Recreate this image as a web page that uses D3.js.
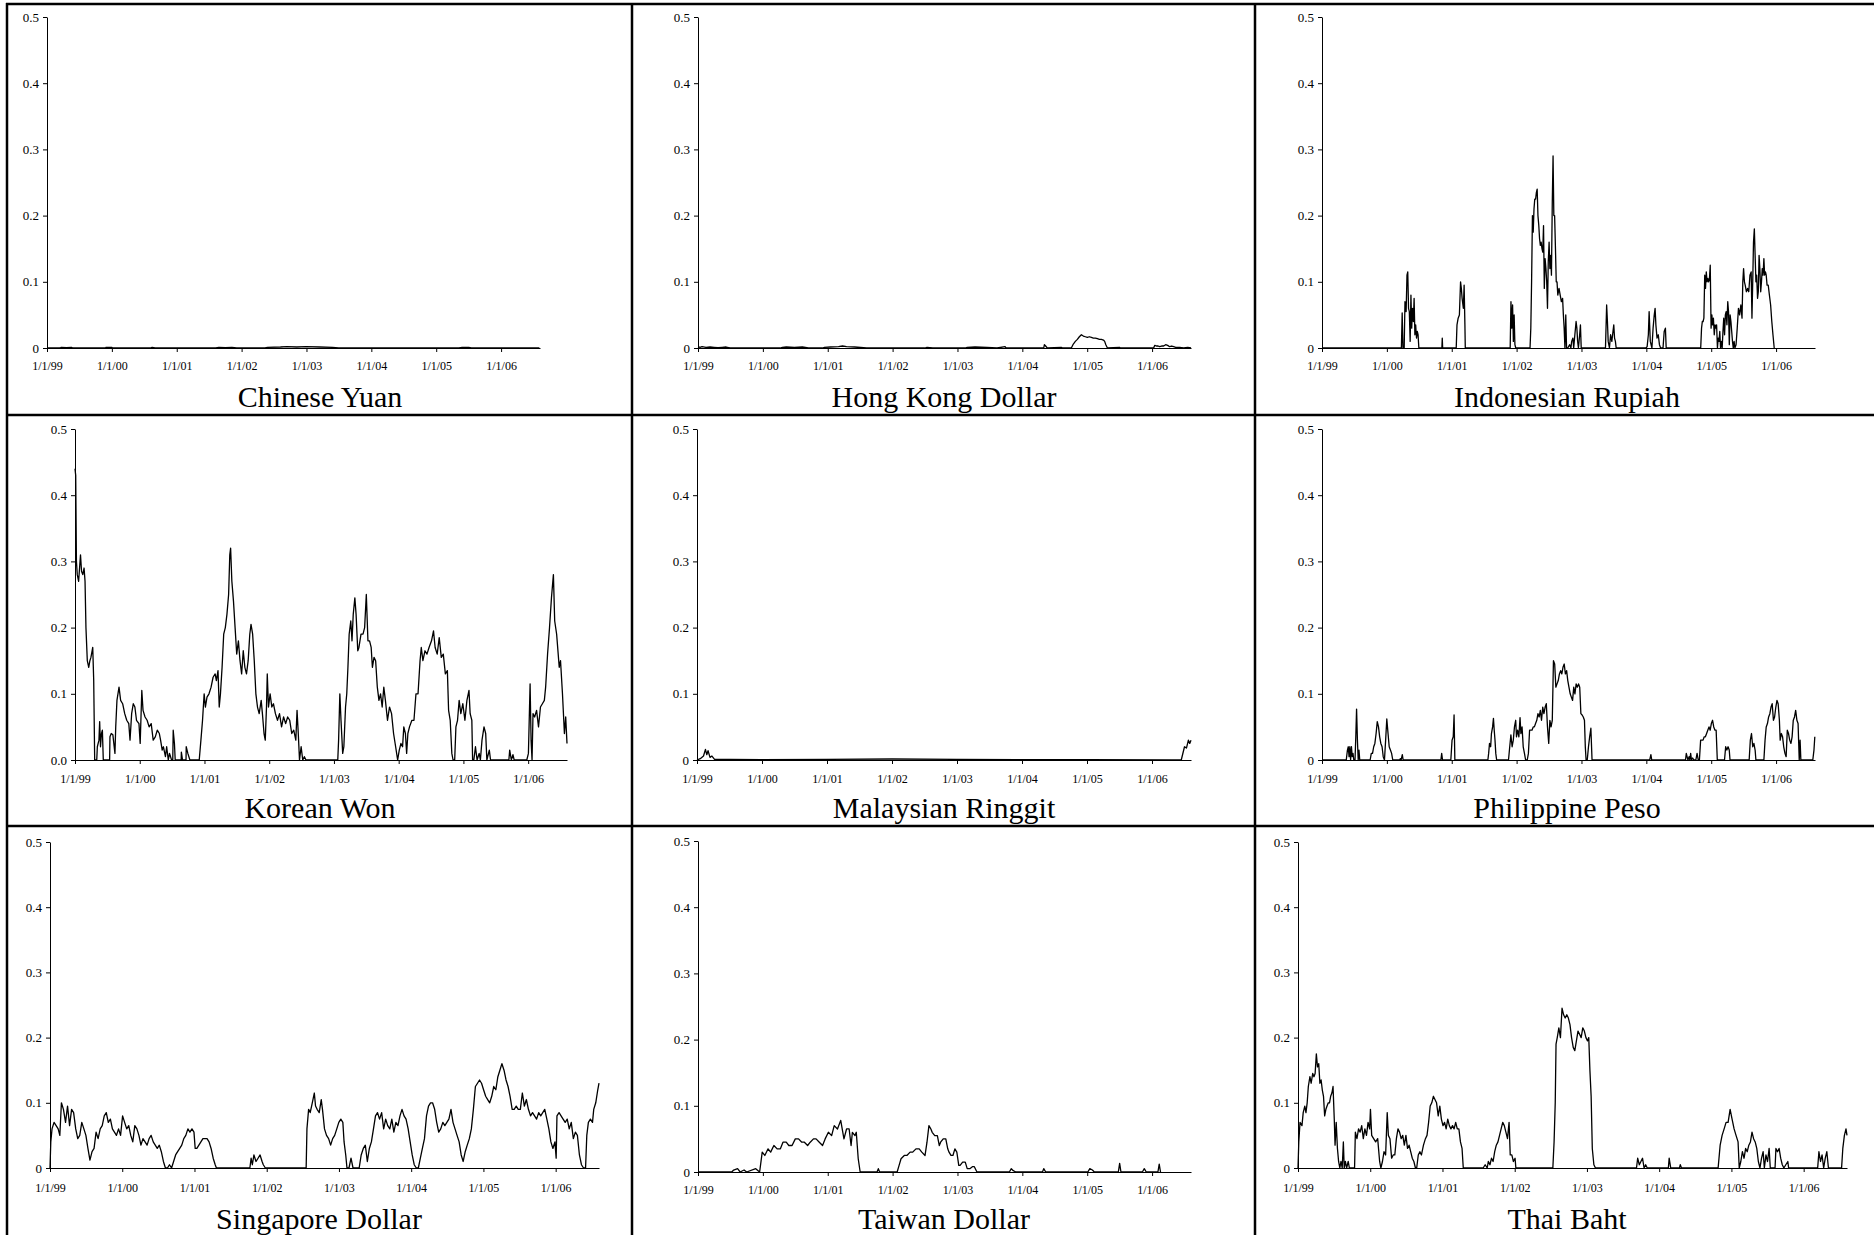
<!DOCTYPE html>
<html>
<head>
<meta charset="utf-8">
<script src="https://cdn.jsdelivr.net/npm/d3@7"></script>
<style>
  html, body { margin: 0; padding: 0; background: #fff; }
  svg { display: block; }
  .tick text { font-family: "Liberation Serif", "Times New Roman", serif; fill: #000; }
  .title { font-family: "Liberation Serif", "Times New Roman", serif; fill: #000; }
</style>
</head>
<body>
<svg id="chart" width="1874" height="1235"></svg>
<script>
// ---------------- DATA (x = years since 1/1/99, y = weight) ----------------
const tickLabels = ["1/1/99", "1/1/00", "1/1/01", "1/1/02", "1/1/03", "1/1/04", "1/1/05", "1/1/06"];
const tickYears = [0, 1, 2, 3, 4, 5, 6, 7];
const yTicks = [0, 0.1, 0.2, 0.3, 0.4, 0.5];
const currencies = ["Chinese Yuan", "Hong Kong Dollar", "Indonesian Rupiah",
                    "Korean Won", "Malaysian Ringgit", "Philippine Peso",
                    "Singapore Dollar", "Taiwan Dollar", "Thai Baht"];

const cny = [[0,0],[0.2,0],[0.22,0.001],[0.3,0.0005],[0.377,0.001],[0.4,0],[0.9,0],[0.912,0.001],[1.0,0.0008],[1.006,0],[1.6,0],[1.62,0.001],[1.667,0],[2.6,0],[2.65,0.001],[2.75,0.0005],[2.85,0.001],[2.925,0],[3.36,0],[3.4,0.001],[3.6,0.0015],[3.7,0.002],[3.85,0.0015],[3.994,0.002],[4.2,0.0015],[4.4,0.001],[4.497,0],[6.35,0],[6.4,0.001],[6.5,0.001],[6.541,0],[7.59,0]];

const hkd = [[0,0.002],[0.031,0.001],[0.062,0.002],[0.124,0.001],[0.186,0.0015],[0.248,0.001],[0.309,0.0005],[0.371,0.001],[0.433,0.0015],[0.495,0],[1.269,0],[1.3,0.001],[1.361,0.0015],[1.485,0.001],[1.609,0.0015],[1.702,0],[1.918,0],[1.95,0.001],[2.042,0.0015],[2.166,0.002],[2.228,0.003],[2.29,0.002],[2.413,0.0015],[2.599,0],[3.496,0],[3.53,0.001],[3.62,0],[4.115,0],[4.15,0.001],[4.27,0.0015],[4.455,0.001],[4.61,0],[4.734,0.002],[4.75,0],[5.33,0],[5.34,0.005],[5.359,0.003],[5.384,0],[5.6,0.001],[5.62,0],[5.755,0],[5.786,0.006],[5.817,0.01],[5.848,0.013],[5.879,0.017],[5.91,0.02],[5.94,0.018],[5.971,0.017],[6.002,0.016],[6.033,0.017],[6.064,0.016],[6.095,0.015],[6.126,0.015],[6.157,0.014],[6.188,0.013],[6.219,0.013],[6.25,0.012],[6.269,0.01],[6.287,0.005],[6.312,0],[6.497,0.001],[6.51,0],[7.023,0],[7.042,0.004],[7.067,0.003],[7.092,0.003],[7.116,0.002],[7.147,0.003],[7.178,0.003],[7.209,0.005],[7.24,0.004],[7.271,0.002],[7.302,0.003],[7.333,0.002],[7.364,0.001],[7.426,0.001],[7.488,0],[7.55,0.001],[7.6,0]];

const idr = [[0,0],[1.224,0],[1.236,0.053],[1.248,0],[1.267,0],[1.279,0.07],[1.297,0.055],[1.31,0.11],[1.322,0.115],[1.334,0.06],[1.346,0.055],[1.359,0.01],[1.371,0.08],[1.383,0.03],[1.395,0.06],[1.408,0.04],[1.42,0.075],[1.432,0.02],[1.444,0.035],[1.457,0.015],[1.469,0.025],[1.481,0.02],[1.493,0],[1.848,0],[1.854,0.015],[1.86,0],[2.069,0],[2.081,0.035],[2.099,0.045],[2.118,0.05],[2.136,0.1],[2.148,0.09],[2.16,0.075],[2.179,0.06],[2.191,0.095],[2.203,0.035],[2.209,0],[2.901,0],[2.913,0.07],[2.925,0.03],[2.938,0.065],[2.95,0.01],[2.962,0.05],[2.974,0.005],[2.987,0],[3.207,0],[3.219,0.03],[3.231,0.1],[3.244,0.2],[3.256,0.175],[3.268,0.21],[3.28,0.225],[3.293,0.225],[3.305,0.235],[3.317,0.24],[3.329,0.2],[3.342,0.185],[3.354,0.165],[3.366,0.155],[3.378,0.16],[3.391,0.15],[3.403,0.145],[3.415,0.185],[3.427,0.09],[3.439,0.135],[3.452,0.12],[3.464,0.1],[3.476,0.06],[3.488,0.13],[3.501,0.16],[3.513,0.12],[3.525,0.14],[3.537,0.11],[3.55,0.22],[3.562,0.29],[3.574,0.2],[3.586,0.2],[3.599,0.15],[3.611,0.1],[3.623,0.1],[3.635,0.08],[3.654,0.09],[3.672,0.08],[3.69,0.07],[3.709,0.075],[3.721,0.05],[3.733,0.03],[3.745,0],[3.758,0.05],[3.77,0],[3.788,0],[3.819,0.005],[3.837,0],[3.849,0.01],[3.868,0.015],[3.88,0],[3.898,0.02],[3.917,0.04],[3.929,0.03],[3.941,0.01],[3.953,0],[3.972,0.02],[3.984,0.035],[3.996,0],[4.37,0],[4.388,0.065],[4.4,0.04],[4.412,0.01],[4.431,0],[4.449,0.02],[4.468,0.01],[4.486,0.025],[4.498,0.035],[4.51,0.015],[4.523,0.01],[4.535,0],[4.994,0],[5.012,0.002],[5.031,0.02],[5.043,0.055],[5.061,0.01],[5.086,0],[5.104,0.03],[5.122,0.05],[5.135,0.06],[5.147,0.035],[5.165,0.015],[5.184,0.02],[5.202,0.005],[5.22,0],[5.257,0],[5.275,0.025],[5.294,0.03],[5.306,0],[5.838,0],[5.851,0.03],[5.863,0.04],[5.875,0.04],[5.887,0.045],[5.9,0.11],[5.912,0.09],[5.924,0.115],[5.936,0.1],[5.949,0.105],[5.961,0.1],[5.973,0.105],[5.985,0.125],[5.998,0.03],[6.01,0.05],[6.022,0.035],[6.034,0.045],[6.047,0.02],[6.059,0.035],[6.071,0.03],[6.083,0.035],[6.096,0],[6.108,0.015],[6.12,0.01],[6.132,0.025],[6.144,0],[6.157,0.01],[6.169,0],[6.181,0.025],[6.193,0.045],[6.206,0.02],[6.218,0.05],[6.23,0.055],[6.242,0.035],[6.255,0.07],[6.267,0.055],[6.279,0.005],[6.291,0.05],[6.304,0.04],[6.316,0.025],[6.328,0.01],[6.34,0],[6.353,0.01],[6.365,0],[6.383,0.005],[6.401,0.03],[6.42,0.06],[6.438,0.05],[6.457,0.065],[6.475,0.045],[6.487,0.1],[6.499,0.12],[6.512,0.1],[6.524,0.095],[6.542,0.085],[6.561,0.09],[6.579,0.085],[6.597,0.11],[6.616,0.115],[6.628,0.045],[6.64,0.1],[6.652,0.16],[6.665,0.18],[6.677,0.14],[6.689,0.1],[6.701,0.11],[6.714,0.075],[6.726,0.085],[6.738,0.14],[6.75,0.12],[6.763,0.085],[6.775,0.1],[6.787,0.12],[6.799,0.11],[6.812,0.135],[6.824,0.11],[6.836,0.115],[6.848,0.11],[6.861,0.095],[6.879,0.095],[6.897,0.08],[6.916,0.065],[6.934,0.04],[6.952,0.02],[6.971,0]];

const krw = [[0,0.44],[0.011,0.43],[0.022,0.3],[0.035,0.28],[0.056,0.27],[0.085,0.31],[0.101,0.285],[0.12,0.28],[0.14,0.29],[0.155,0.27],[0.169,0.2],[0.19,0.15],[0.212,0.14],[0.23,0.15],[0.246,0.155],[0.274,0.17],[0.289,0.12],[0.304,0],[0.336,0],[0.345,0.02],[0.37,0.03],[0.381,0.058],[0.394,0.02],[0.409,0.04],[0.423,0.045],[0.437,0],[0.535,0],[0.54,0.035],[0.56,0.04],[0.585,0.038],[0.617,0.01],[0.629,0.05],[0.648,0.09],[0.68,0.11],[0.705,0.09],[0.736,0.085],[0.768,0.07],[0.799,0.06],[0.831,0.055],[0.85,0.03],[0.875,0.07],[0.9,0.085],[0.925,0.08],[0.95,0.06],[0.988,0.055],[1.007,0.025],[1.032,0.105],[1.051,0.075],[1.082,0.065],[1.114,0.06],[1.145,0.05],[1.177,0.055],[1.208,0.03],[1.24,0.035],[1.271,0.045],[1.303,0.04],[1.322,0.03],[1.347,0.015],[1.366,0.02],[1.397,0.005],[1.416,0.02],[1.441,0],[1.46,0.01],[1.492,0],[1.51,0],[1.517,0.045],[1.536,0.025],[1.548,0],[1.64,0],[1.643,0.012],[1.661,0],[1.715,0],[1.718,0.02],[1.743,0.01],[1.775,0],[1.919,0],[1.945,0.03],[1.97,0.06],[1.995,0.1],[2.014,0.08],[2.039,0.095],[2.07,0.1],[2.102,0.11],[2.133,0.125],[2.165,0.13],[2.184,0.12],[2.209,0.135],[2.228,0.08],[2.247,0.1],[2.272,0.14],[2.297,0.19],[2.322,0.2],[2.347,0.22],[2.373,0.25],[2.391,0.31],[2.404,0.32],[2.423,0.27],[2.448,0.24],[2.473,0.2],[2.498,0.16],[2.524,0.18],[2.549,0.15],[2.574,0.13],[2.599,0.165],[2.624,0.14],[2.649,0.13],[2.675,0.15],[2.7,0.19],[2.719,0.205],[2.744,0.19],[2.769,0.15],[2.794,0.1],[2.819,0.08],[2.845,0.07],[2.876,0.09],[2.895,0.07],[2.92,0.04],[2.939,0.03],[2.958,0.08],[2.97,0.13],[2.989,0.08],[3.014,0.1],[3.04,0.08],[3.065,0.085],[3.096,0.07],[3.128,0.06],[3.159,0.07],[3.191,0.05],[3.222,0.065],[3.254,0.055],[3.285,0.065],[3.317,0.06],[3.348,0.04],[3.379,0.045],[3.411,0.03],[3.43,0.075],[3.449,0.04],[3.468,0],[3.493,0.02],[3.518,0],[3.543,0.005],[3.568,0],[4.059,0],[4.072,0.03],[4.091,0.1],[4.109,0.06],[4.135,0.01],[4.153,0.02],[4.179,0.08],[4.198,0.1],[4.216,0.14],[4.235,0.19],[4.26,0.21],[4.279,0.18],[4.298,0.22],[4.323,0.245],[4.342,0.22],[4.368,0.165],[4.386,0.17],[4.418,0.19],[4.449,0.19],[4.474,0.2],[4.5,0.25],[4.525,0.18],[4.55,0.18],[4.575,0.17],[4.594,0.14],[4.619,0.155],[4.644,0.15],[4.67,0.11],[4.695,0.09],[4.72,0.1],[4.745,0.08],[4.77,0.11],[4.795,0.09],[4.827,0.06],[4.858,0.08],[4.89,0.07],[4.921,0.04],[4.953,0.02],[4.984,0],[5.009,0.015],[5.035,0.025],[5.06,0.02],[5.079,0.05],[5.104,0.04],[5.123,0.01],[5.142,0.04],[5.167,0.05],[5.204,0.06],[5.236,0.06],[5.267,0.1],[5.299,0.1],[5.33,0.15],[5.349,0.17],[5.374,0.15],[5.406,0.165],[5.437,0.16],[5.469,0.17],[5.507,0.18],[5.538,0.195],[5.563,0.17],[5.595,0.16],[5.626,0.185],[5.658,0.155],[5.689,0.16],[5.721,0.13],[5.752,0.135],[5.771,0.075],[5.796,0.06],[5.821,0.01],[5.84,0],[5.865,0],[5.884,0.05],[5.909,0.06],[5.934,0.09],[5.96,0.07],[5.991,0.085],[6.023,0.06],[6.054,0.09],[6.086,0.105],[6.104,0.07],[6.13,0.06],[6.142,0],[6.161,0],[6.186,0.02],[6.211,0],[6.243,0.01],[6.262,0],[6.287,0.03],[6.318,0.05],[6.344,0.04],[6.362,0],[6.4,0.015],[6.419,0],[6.702,0],[6.715,0.015],[6.74,0],[6.765,0.008],[6.784,0],[6.979,0],[7.004,0.01],[7.03,0.115],[7.045,0.03],[7.06,0],[7.075,0.07],[7.1,0.065],[7.13,0.075],[7.16,0.05],[7.19,0.08],[7.22,0.085],[7.25,0.09],[7.27,0.11],[7.3,0.16],[7.33,0.2],[7.36,0.245],[7.39,0.28],[7.41,0.21],[7.44,0.19],[7.48,0.14],[7.5,0.15],[7.53,0.1],[7.56,0.04],[7.58,0.065],[7.6,0.025]];

const myr = [[0,0],[0.05,0.002],[0.1,0.006],[0.13,0.016],[0.15,0.008],[0.17,0.014],[0.2,0.004],[0.23,0.006],[0.27,0.001],[0.5,0.001],[1,0.0005],[2,0.001],[3,0.0015],[4,0.001],[5,0.0005],[6,0.0005],[7.3,0],[7.45,0],[7.5,0.02],[7.53,0.018],[7.56,0.03],[7.58,0.025],[7.6,0.03]];

const php = [[0,0],[0.374,0],[0.392,0.015],[0.405,0.02],[0.417,0.005],[0.429,0.02],[0.441,0],[0.454,0.02],[0.466,0.005],[0.478,0.01],[0.49,0],[0.509,0],[0.521,0.035],[0.533,0.077],[0.546,0.03],[0.558,0],[0.57,0.015],[0.582,0],[0.742,0],[0.76,0.01],[0.779,0.01],[0.797,0.02],[0.815,0.025],[0.834,0.04],[0.852,0.058],[0.871,0.05],[0.889,0.035],[0.907,0.025],[0.926,0.02],[0.944,0.005],[0.963,0],[0.981,0.03],[0.999,0.062],[1.018,0.04],[1.036,0.02],[1.055,0.015],[1.073,0.01],[1.091,0],[1.196,0],[1.208,0.002],[1.22,0],[1.238,0.008],[1.251,0],[1.833,0],[1.845,0.01],[1.858,0],[1.986,0],[2.005,0.03],[2.023,0.035],[2.036,0.068],[2.048,0],[2.557,0],[2.569,0.01],[2.582,0.025],[2.6,0.02],[2.612,0.04],[2.63,0.05],[2.643,0.063],[2.655,0.045],[2.667,0.03],[2.679,0.01],[2.692,0],[2.875,0],[2.894,0.02],[2.912,0.038],[2.931,0.02],[2.949,0.03],[2.967,0.05],[2.986,0.06],[2.998,0.035],[3.016,0.045],[3.035,0.035],[3.053,0.064],[3.066,0.04],[3.084,0.05],[3.102,0.02],[3.121,0.01],[3.139,0],[3.164,0],[3.182,0.01],[3.2,0.045],[3.219,0.045],[3.237,0.045],[3.256,0.05],[3.274,0.05],[3.292,0.055],[3.311,0.06],[3.329,0.07],[3.348,0.065],[3.366,0.075],[3.384,0.06],[3.403,0.08],[3.421,0.07],[3.44,0.08],[3.458,0.085],[3.476,0.05],[3.495,0.025],[3.513,0.06],[3.531,0.05],[3.55,0.06],[3.568,0.15],[3.587,0.145],[3.605,0.11],[3.623,0.115],[3.642,0.12],[3.66,0.13],[3.679,0.135],[3.697,0.13],[3.715,0.14],[3.734,0.145],[3.752,0.13],[3.771,0.135],[3.789,0.12],[3.807,0.11],[3.826,0.1],[3.844,0.095],[3.863,0.09],[3.881,0.11],[3.899,0.1],[3.918,0.115],[3.936,0.11],[3.955,0.115],[3.973,0.11],[3.991,0.07],[4.01,0.068],[4.028,0.065],[4.046,0.06],[4.059,0.02],[4.071,0],[4.089,0],[4.108,0.02],[4.126,0.035],[4.145,0.048],[4.163,0],[5.052,0],[5.07,0.008],[5.083,0],[5.604,0],[5.616,0.01],[5.628,0.005],[5.641,0],[5.659,0.005],[5.671,0],[5.683,0.01],[5.696,0],[5.714,0.003],[5.733,0],[5.763,0],[5.782,0.01],[5.8,0],[5.818,0],[5.837,0.03],[5.855,0.03],[5.874,0.03],[5.892,0.035],[5.91,0.035],[5.929,0.04],[5.947,0.045],[5.966,0.05],[5.984,0.045],[6.002,0.055],[6.021,0.06],[6.039,0.05],[6.058,0.045],[6.076,0.045],[6.094,0],[6.113,0],[6.205,0],[6.223,0.02],[6.241,0.015],[6.26,0.02],[6.278,0.015],[6.29,0],[6.585,0],[6.603,0.03],[6.621,0.04],[6.64,0.02],[6.658,0.025],[6.677,0.015],[6.689,0],[6.812,0],[6.83,0.03],[6.848,0.05],[6.867,0.055],[6.885,0.065],[6.904,0.07],[6.922,0.08],[6.94,0.085],[6.959,0.06],[6.977,0.065],[6.996,0.08],[7.014,0.09],[7.032,0.085],[7.051,0.06],[7.063,0.03],[7.081,0.04],[7.1,0.035],[7.118,0.02],[7.137,0.01],[7.155,0.005],[7.173,0.045],[7.192,0.04],[7.21,0.03],[7.229,0.025],[7.247,0.035],[7.265,0.06],[7.284,0.065],[7.302,0.075],[7.321,0.06],[7.339,0.055],[7.357,0],[7.37,0.03],[7.382,0],[7.566,0],[7.584,0.015],[7.597,0.035]];

const sgd = [[0,0],[0.011,0.04],[0.028,0.06],[0.056,0.07],[0.085,0.065],[0.113,0.06],[0.136,0.05],[0.158,0.1],[0.186,0.09],[0.215,0.07],[0.243,0.095],[0.271,0.065],[0.299,0.09],[0.327,0.085],[0.356,0.06],[0.384,0.045],[0.412,0.05],[0.44,0.07],[0.469,0.06],[0.497,0.05],[0.525,0.03],[0.553,0.012],[0.582,0.025],[0.61,0.03],[0.638,0.055],[0.666,0.045],[0.695,0.06],[0.723,0.065],[0.751,0.08],[0.779,0.085],[0.807,0.07],[0.836,0.075],[0.864,0.06],[0.892,0.055],[0.92,0.05],[0.949,0.06],[0.977,0.05],[1.005,0.08],[1.033,0.07],[1.062,0.06],[1.09,0.065],[1.118,0.05],[1.146,0.04],[1.174,0.065],[1.203,0.06],[1.231,0.05],[1.259,0.035],[1.287,0.045],[1.316,0.04],[1.344,0.035],[1.372,0.045],[1.4,0.05],[1.429,0.04],[1.457,0.035],[1.485,0.03],[1.513,0.035],[1.541,0.025],[1.57,0.01],[1.598,0],[1.626,0],[1.654,0.005],[1.683,0],[1.711,0.01],[1.739,0.02],[1.767,0.025],[1.796,0.03],[1.824,0.035],[1.852,0.045],[1.88,0.05],[1.909,0.06],[1.937,0.055],[1.965,0.06],[1.993,0.055],[2.01,0.03],[2.033,0.03],[2.061,0.035],[2.089,0.04],[2.117,0.045],[2.146,0.045],[2.174,0.045],[2.202,0.04],[2.23,0.03],[2.259,0.015],[2.287,0.005],[2.304,0],[2.767,0],[2.784,0.015],[2.801,0.005],[2.823,0.02],[2.852,0.01],[2.88,0.015],[2.908,0.02],[2.936,0.01],[2.953,0.005],[2.981,0],[3.546,0],[3.557,0.06],[3.58,0.09],[3.602,0.085],[3.631,0.1],[3.659,0.115],[3.676,0.095],[3.698,0.09],[3.727,0.085],[3.755,0.105],[3.772,0.09],[3.8,0.06],[3.828,0.05],[3.857,0.045],[3.885,0.035],[3.913,0.045],[3.941,0.05],[3.97,0.06],[3.998,0.07],[4.026,0.075],[4.054,0.07],[4.071,0.04],[4.094,0.02],[4.111,0],[4.139,0],[4.167,0.015],[4.195,0],[4.224,0],[4.28,0],[4.308,0.02],[4.337,0.03],[4.365,0.035],[4.393,0.01],[4.421,0.03],[4.449,0.04],[4.478,0.06],[4.506,0.08],[4.534,0.085],[4.562,0.075],[4.591,0.085],[4.619,0.06],[4.647,0.075],[4.675,0.065],[4.704,0.06],[4.732,0.075],[4.76,0.055],[4.788,0.07],[4.817,0.065],[4.845,0.08],[4.873,0.09],[4.901,0.08],[4.929,0.075],[4.958,0.06],[4.986,0.04],[5.014,0.02],[5.042,0.005],[5.071,0],[5.099,0],[5.127,0.015],[5.155,0.03],[5.184,0.045],[5.212,0.08],[5.24,0.095],[5.268,0.1],[5.296,0.1],[5.325,0.09],[5.353,0.07],[5.381,0.055],[5.409,0.06],[5.438,0.07],[5.466,0.065],[5.494,0.07],[5.522,0.075],[5.551,0.09],[5.579,0.07],[5.607,0.06],[5.635,0.05],[5.664,0.04],[5.692,0.02],[5.72,0.01],[5.748,0.025],[5.776,0.035],[5.805,0.045],[5.833,0.06],[5.861,0.09],[5.889,0.125],[5.918,0.13],[5.946,0.135],[5.974,0.13],[6.002,0.12],[6.031,0.11],[6.059,0.105],[6.087,0.1],[6.115,0.11],[6.143,0.125],[6.172,0.12],[6.2,0.14],[6.228,0.15],[6.256,0.16],[6.285,0.15],[6.313,0.135],[6.341,0.125],[6.369,0.11],[6.398,0.09],[6.426,0.09],[6.454,0.095],[6.482,0.09],[6.511,0.09],[6.539,0.115],[6.567,0.095],[6.595,0.105],[6.623,0.09],[6.652,0.08],[6.68,0.085],[6.708,0.08],[6.736,0.075],[6.765,0.085],[6.793,0.08],[6.821,0.085],[6.849,0.09],[6.878,0.075],[6.906,0.06],[6.934,0.04],[6.962,0.03],[6.99,0.04],[7.007,0.015],[7.018,0.08],[7.047,0.085],[7.075,0.08],[7.103,0.075],[7.132,0.07],[7.16,0.075],[7.188,0.06],[7.216,0.07],[7.245,0.045],[7.273,0.055],[7.301,0.05],[7.329,0.02],[7.357,0.005],[7.386,0],[7.414,0],[7.431,0.05],[7.453,0.07],[7.481,0.075],[7.51,0.07],[7.527,0.09],[7.555,0.1],[7.583,0.12],[7.6,0.13]];

const twd = [[0,0],[0.52,0],[0.55,0.003],[0.61,0.005],[0.65,0],[0.71,0.003],[0.75,0],[0.89,0.005],[0.95,0],[0.99,0.03],[1.03,0.025],[1.08,0.035],[1.12,0.03],[1.17,0.04],[1.22,0.035],[1.27,0.035],[1.31,0.045],[1.36,0.045],[1.4,0.04],[1.45,0.04],[1.5,0.05],[1.55,0.05],[1.6,0.045],[1.64,0.045],[1.69,0.04],[1.73,0.045],[1.78,0.05],[1.82,0.05],[1.87,0.045],[1.92,0.04],[1.96,0.05],[2.01,0.06],[2.06,0.055],[2.1,0.07],[2.15,0.065],[2.2,0.078],[2.25,0.05],[2.29,0.065],[2.33,0.065],[2.36,0.04],[2.38,0.06],[2.42,0.055],[2.44,0.06],[2.47,0.02],[2.5,0],[2.76,0],[2.78,0.005],[2.8,0],[3.07,0],[3.1,0.01],[3.13,0.02],[3.18,0.025],[3.22,0.025],[3.27,0.03],[3.31,0.03],[3.36,0.035],[3.41,0.035],[3.45,0.03],[3.5,0.025],[3.53,0.045],[3.56,0.07],[3.59,0.065],[3.61,0.06],[3.65,0.055],[3.69,0.055],[3.72,0.04],[3.74,0.045],[3.78,0.05],[3.82,0.05],[3.85,0.035],[3.87,0.03],[3.9,0.025],[3.93,0.025],[3.96,0.035],[3.99,0.03],[4.02,0.01],[4.04,0.01],[4.08,0.015],[4.12,0.015],[4.15,0.005],[4.19,0.005],[4.23,0.008],[4.26,0.008],[4.3,0],[4.34,0],[4.8,0],[4.83,0.005],[4.86,0.002],[4.9,0],[5.31,0],[5.33,0.005],[5.36,0],[5.6,0],[6.01,0],[6.04,0.005],[6.08,0.003],[6.11,0],[6.48,0],[6.5,0.013],[6.52,0],[6.85,0],[6.88,0.005],[6.91,0],[7.09,0],[7.11,0.012],[7.13,0]];

const thb = [[0,0],[0.011,0.04],[0.028,0.07],[0.055,0.065],[0.072,0.085],[0.094,0.095],[0.11,0.085],[0.127,0.1],[0.143,0.125],[0.165,0.14],[0.182,0.13],[0.204,0.145],[0.221,0.14],[0.237,0.145],[0.254,0.175],[0.27,0.155],[0.287,0.16],[0.303,0.13],[0.32,0.135],[0.336,0.12],[0.353,0.11],[0.369,0.08],[0.386,0.09],[0.402,0.095],[0.419,0.1],[0.436,0.1],[0.452,0.11],[0.469,0.115],[0.485,0.125],[0.502,0.075],[0.513,0.035],[0.529,0.07],[0.546,0.03],[0.562,0.01],[0.579,0],[0.595,0.01],[0.612,0],[0.628,0.04],[0.64,0],[0.656,0.01],[0.673,0],[0.695,0.01],[0.711,0],[0.783,0],[0.794,0.055],[0.816,0.045],[0.838,0.06],[0.86,0.055],[0.882,0.065],[0.904,0.045],[0.926,0.06],[0.948,0.05],[0.97,0.07],[0.992,0.06],[1.003,0.09],[1.02,0.05],[1.047,0.045],[1.075,0.04],[1.103,0.045],[1.13,0.01],[1.147,0],[1.169,0.01],[1.191,0.025],[1.213,0.02],[1.235,0.085],[1.251,0.05],[1.273,0.045],[1.296,0.015],[1.318,0.02],[1.34,0.02],[1.362,0.045],[1.384,0.06],[1.406,0.055],[1.428,0.045],[1.45,0.05],[1.472,0.035],[1.494,0.05],[1.516,0.03],[1.538,0.035],[1.56,0.025],[1.582,0.015],[1.604,0.01],[1.626,0],[1.643,0],[1.665,0.02],[1.687,0.025],[1.709,0.02],[1.737,0.035],[1.764,0.045],[1.786,0.05],[1.808,0.07],[1.83,0.095],[1.852,0.1],[1.874,0.11],[1.896,0.105],[1.918,0.1],[1.941,0.08],[1.963,0.095],[1.985,0.075],[2.007,0.065],[2.029,0.07],[2.051,0.06],[2.073,0.075],[2.095,0.065],[2.117,0.06],[2.139,0.065],[2.161,0.06],[2.183,0.07],[2.205,0.06],[2.227,0.06],[2.249,0.04],[2.271,0.03],[2.288,0],[2.536,0],[2.563,0],[2.591,0.005],[2.619,0],[2.635,0.01],[2.657,0.005],[2.679,0.015],[2.701,0.01],[2.723,0.025],[2.745,0.035],[2.768,0.04],[2.79,0.05],[2.812,0.06],[2.834,0.07],[2.856,0.065],[2.878,0.055],[2.9,0.045],[2.922,0.07],[2.938,0.02],[2.96,0.02],[2.982,0.01],[3.005,0.015],[3.016,0],[3.528,0],[3.545,0.04],[3.561,0.1],[3.572,0.19],[3.589,0.2],[3.611,0.215],[3.633,0.2],[3.655,0.245],[3.677,0.235],[3.699,0.23],[3.721,0.235],[3.743,0.23],[3.765,0.22],[3.787,0.2],[3.81,0.185],[3.832,0.18],[3.854,0.195],[3.876,0.21],[3.898,0.205],[3.92,0.2],[3.942,0.215],[3.964,0.21],[3.986,0.2],[4.008,0.195],[4.025,0.2],[4.041,0.15],[4.058,0.11],[4.074,0.03],[4.096,0.005],[4.118,0],[4.686,0],[4.702,0.015],[4.725,0.005],[4.747,0.01],[4.769,0.015],[4.791,0],[4.813,0.005],[4.835,0],[5.127,0],[5.138,0.015],[5.16,0],[5.281,0],[5.292,0.005],[5.309,0],[5.816,0],[5.844,0.035],[5.871,0.05],[5.899,0.06],[5.926,0.07],[5.954,0.07],[5.982,0.09],[6.009,0.075],[6.037,0.06],[6.064,0.05],[6.092,0.04],[6.108,0],[6.13,0.01],[6.152,0.025],[6.175,0.015],[6.197,0.03],[6.219,0.025],[6.241,0.035],[6.263,0.04],[6.285,0.055],[6.307,0.045],[6.329,0.04],[6.351,0.03],[6.373,0.01],[6.395,0],[6.417,0.015],[6.439,0.025],[6.456,0],[6.478,0.02],[6.5,0.01],[6.522,0.03],[6.538,0],[6.604,0],[6.616,0.03],[6.638,0.025],[6.66,0.03],[6.682,0.015],[6.704,0.005],[6.726,0],[6.753,0.005],[6.781,0.01],[6.792,0],[7.194,0],[7.211,0.025],[7.233,0.01],[7.255,0.02],[7.277,0],[7.299,0.015],[7.321,0.025],[7.343,0],[7.525,0],[7.542,0.03],[7.564,0.05],[7.586,0.06],[7.6,0.05]];

const seriesList = [cny, hkd, idr, krw, myr, php, sgd, twd, thb];
const xDomain = [0, 7.6];
const yDomain = [0, 0.5];

// ---------------- LAYOUT ----------------
const W = 1874, H = 1235;
const layout = [
  {x0: 47,   x1: 540,  yT: 17,  yB: 348,  lab: 370,  tit: 407,  cx: 320,  zero: "0"},
  {x0: 698,  x1: 1191, yT: 17,  yB: 348,  lab: 370,  tit: 407,  cx: 944,  zero: "0"},
  {x0: 1322, x1: 1815, yT: 17,  yB: 348,  lab: 370,  tit: 407,  cx: 1567, zero: "0"},
  {x0: 75,   x1: 567,  yT: 429, yB: 760,  lab: 783,  tit: 818,  cx: 320,  zero: "0.0"},
  {x0: 697,  x1: 1191, yT: 429, yB: 760,  lab: 783,  tit: 818,  cx: 944,  zero: "0"},
  {x0: 1322, x1: 1815, yT: 429, yB: 760,  lab: 783,  tit: 818,  cx: 1567, zero: "0"},
  {x0: 50,   x1: 599,  yT: 842, yB: 1168, lab: 1192, tit: 1229, cx: 319,  zero: "0"},
  {x0: 698,  x1: 1191, yT: 841, yB: 1172, lab: 1194, tit: 1229, cx: 944,  zero: "0"},
  {x0: 1298, x1: 1847, yT: 842, yB: 1168, lab: 1192, tit: 1229, cx: 1567, zero: "0"}
];

const svg = d3.select("#chart");
svg.append("rect").attr("width", W).attr("height", H).attr("fill", "#fff");

// grid borders
const gridH = [4, 415, 826];
const gridV = [7, 632, 1255];
svg.selectAll("line.gh").data(gridH).join("line")
  .attr("x1", 6).attr("x2", W).attr("y1", d => d).attr("y2", d => d)
  .attr("stroke", "#000").attr("stroke-width", 2.5);
svg.selectAll("line.gv").data(gridV).join("line")
  .attr("x1", d => d).attr("x2", d => d).attr("y1", 3).attr("y2", H)
  .attr("stroke", "#000").attr("stroke-width", 2.5);

const fmt = d3.format(".1f");

layout.forEach((L, i) => {
  const data = seriesList[i];
  const x = d3.scaleLinear().domain(xDomain).range([L.x0, L.x1]);
  const y = d3.scaleLinear().domain(yDomain).range([L.yB, L.yT]);
  const g = svg.append("g");

  // y axis
  const ya = g.append("g").attr("transform", `translate(${L.x0},0)`)
    .call(d3.axisLeft(y).tickValues(yTicks).tickSizeInner(4).tickSizeOuter(0).tickPadding(4)
      .tickFormat(v => v === 0 ? L.zero : fmt(v)));
  ya.selectAll("text").attr("font-size", 13);
  ya.select(".domain").attr("stroke", "#000").attr("stroke-width", 1);
  ya.selectAll(".tick line").attr("stroke", "#000");

  // x axis
  const xa = g.append("g").attr("transform", `translate(0,${L.yB})`)
    .call(d3.axisBottom(x).tickValues(tickYears).tickSizeInner(4).tickSizeOuter(0).tickPadding(0)
      .tickFormat((d, k) => tickLabels[k]));
  xa.selectAll("text").attr("font-size", 12).attr("dy", null)
    .attr("y", L.lab - L.yB);
  xa.select(".domain").attr("stroke", "#000").attr("stroke-width", 1);
  xa.selectAll(".tick line").attr("stroke", "#000");

  // series line
  const line = d3.line().x(d => x(d[0])).y(d => y(d[1]));
  g.append("path").datum(data)
    .attr("d", line)
    .attr("fill", "none")
    .attr("stroke", "#000")
    .attr("stroke-width", 1.3)
    .attr("stroke-linejoin", "round");

  // panel title
  g.append("text").attr("class", "title")
    .attr("x", L.cx).attr("y", L.tit)
    .attr("text-anchor", "middle")
    .attr("font-size", 30)
    .text(currencies[i]);
});
</script>
</body>
</html>
